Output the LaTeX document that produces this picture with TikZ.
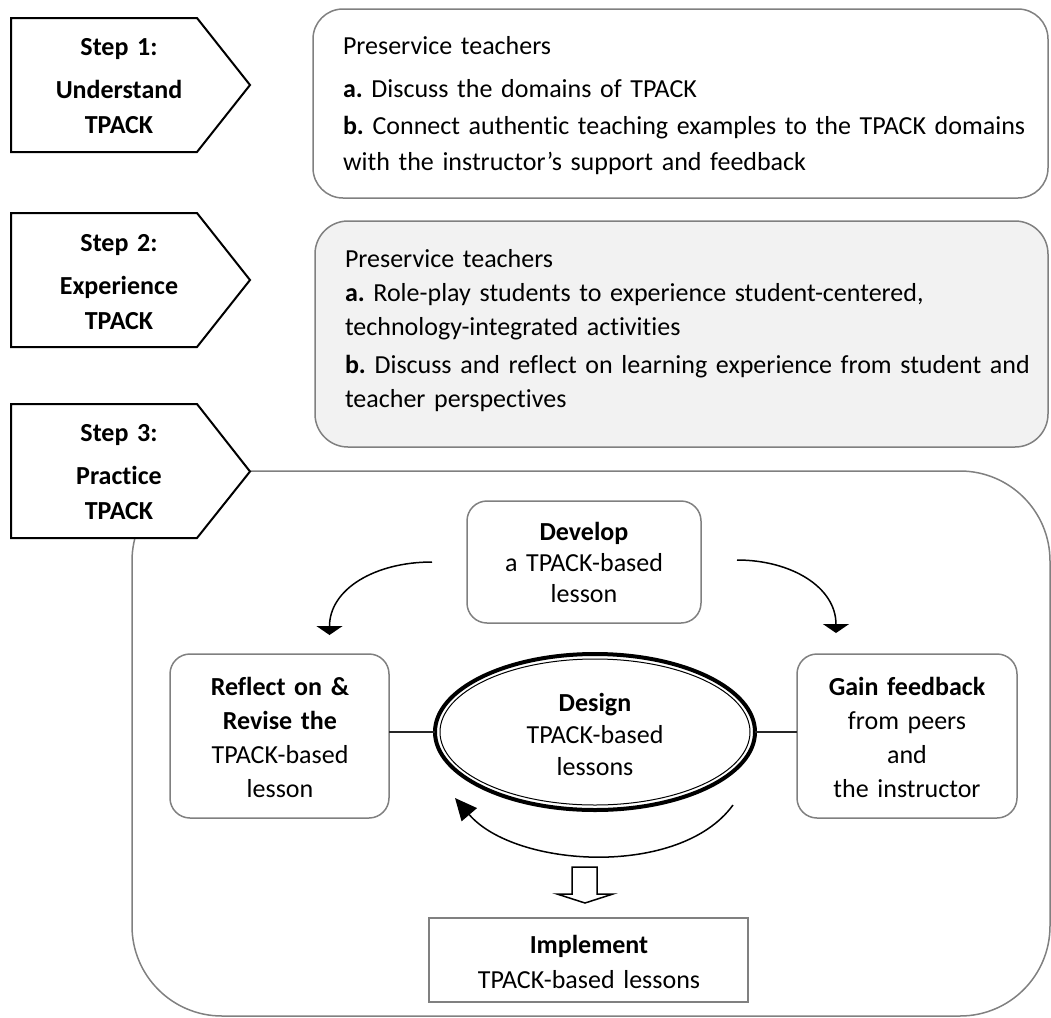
\documentclass[tikz,border=0pt]{standalone}
\usepackage{fontspec}
\setmainfont{Carlito}[Ligatures=NoCommon]
\frenchspacing
\usetikzlibrary{arrows.meta,calc,shapes.geometric}
\definecolor{boxgray}{RGB}{128,128,128}
\definecolor{boxfill}{RGB}{242,242,242}
\begin{document}
\begin{tikzpicture}[x=0.5pt,y=-0.5pt,
  every node/.style={inner sep=0pt, outer sep=0pt},
  pent/.style={draw=black, line width=1pt, fill=white, line join=miter},
  gbox/.style={draw=boxgray, line width=0.75pt, rectangle, rounded corners=10pt},
  conn/.style={draw=black!85, line width=0.75pt},
  curvarrow/.style={draw=black, line width=0.75pt, -{Triangle[width=13pt,length=4.5pt]}},
  steptxt/.style={font=\fontsize{13pt}{17.5pt}\selectfont\bfseries, anchor=base, text width=120pt, align=center},
  ctxt/.style={font=\fontsize{13pt}{17pt}\selectfont, anchor=base, text width=115pt, align=center},
  ltxt/.style={anchor=base west, text width=380pt, align=left}
]
\useasboundingbox (0,0) rectangle (1051,1018);

% large practice frame
\node[draw=boxgray, line width=0.75pt, rectangle, rounded corners=45pt,
      minimum width=459pt, minimum height=272.5pt] (practice) at (591,743.5) {};

% step pentagons
\draw[pent] (11,18) -- (197,18) -- (250,85) -- (197,152) -- (11,152) -- cycle;
\draw[pent] (11,213) -- (197,213) -- (250,280) -- (197,347) -- (11,347) -- cycle;
\draw[pent] (11,404) -- (197,404) -- (250,471.5) -- (197,538) -- (11,538) -- cycle;

\node[steptxt] (s1) at (119,55) {Step 1:\\[4pt]Understand\\TPACK};
\node[steptxt] (s2) at (119,251) {Step 2:\\[4pt]Experience\\TPACK};
\node[steptxt] (s3) at (119,441) {Step 3:\\[4pt]Practice\\TPACK};

% step 1 and step 2 boxes
\node[gbox, rounded corners=15pt, minimum width=367.5pt, minimum height=94.5pt] (box1) at (680.5,103.5) {};
\node[gbox, rounded corners=16.5pt, fill=boxfill, minimum width=366.5pt, minimum height=113pt] (box2) at (681.5,334) {};

\node[ltxt, font=\fontsize{13pt}{18pt}\selectfont] (t1) at (343,54)
  {Preservice teachers\\[3.5pt]
   \textbf{a.} Discuss the domains of TPACK\\[0.5pt]
   \textbf{b.} Connect authentic teaching examples to the TPACK domains\\
   with the instructor’s support and feedback};
\node[ltxt, font=\fontsize{13pt}{17pt}\selectfont] (t2) at (345,267)
  {Preservice teachers\\
   \textbf{a.} Role-play students to experience student-centered,\\
   technology-integrated activities\\[2pt]
   \textbf{b.} Discuss and reflect on learning experience from student and\\
   teacher perspectives};

% inner cycle boxes
\node[gbox, minimum width=117pt, minimum height=61pt] (develop) at (584,562) {};
\node[gbox, minimum width=109.5pt, minimum height=82pt] (reflect) at (279.5,736) {};
\node[gbox, minimum width=110pt, minimum height=82pt] (gain) at (907,736) {};
\node[draw=boxgray, line width=0.75pt, rectangle, minimum width=159.5pt, minimum height=42pt] (implement) at (588.5,960) {};
\node[draw=black, line width=2pt, ellipse, fill=white, minimum width=160pt, minimum height=78pt] (design) at (595,732) {};
\draw[line width=0.5pt] (design.center) ellipse [x radius=77.5pt, y radius=36.5pt];

\node[ctxt, font=\fontsize{13pt}{15.5pt}\selectfont] (tdev) at (584,540) {\textbf{Develop}\\a TPACK-based\\lesson};
\node[ctxt] (tref) at (280,695) {\textbf{Reflect on \&}\\\textbf{Revise the}\\TPACK-based\\lesson};
\node[ctxt] (tgain) at (907,695) {\textbf{Gain feedback}\\from peers\\and\\the instructor};
\node[ctxt, font=\fontsize{13pt}{16pt}\selectfont] (tdes) at (595,711) {\textbf{Design}\\TPACK-based\\lessons};
\node[ctxt, text width=160pt, font=\fontsize{13pt}{17.5pt}\selectfont] (timp) at (589,953) {\textbf{Implement}\\TPACK-based lessons};

% connectors
\draw[conn] (design.west) -- (design.west -| reflect.east);
\draw[conn] (design.east) -- (design.east -| gain.west);

\coordinate (la) at ($(develop.west)+(-35,0)$);
\coordinate (lt) at ($(reflect.north)+(50,-19)$);
\coordinate (ra) at ($(develop.east)+(36,-2)$);
\coordinate (rt) at ($(gain.north)+(-71,-21)$);
\draw[curvarrow] (la) .. controls +(-57,0) and +(0,-46) .. (lt);
\draw[curvarrow] (ra) .. controls +(54,0) and +(0,-46) .. (rt);

\coordinate (ba) at ($(design.center)+(138,73)$);
\coordinate (bt) at ($(design.center)+(-140,66)$);
\draw[line width=0.75pt, -{Triangle[width=10pt,length=11pt]}] (ba) .. controls (680,878) and (515,868) .. (bt);

% hollow block arrow to implement
\draw[line width=0.75pt, fill=white, line join=miter]
  (572,867) -- (597,867) -- (597,894) -- (613,894) -- (585,903) -- (557,894) -- (572,894) -- cycle;
\end{tikzpicture}
\end{document}
